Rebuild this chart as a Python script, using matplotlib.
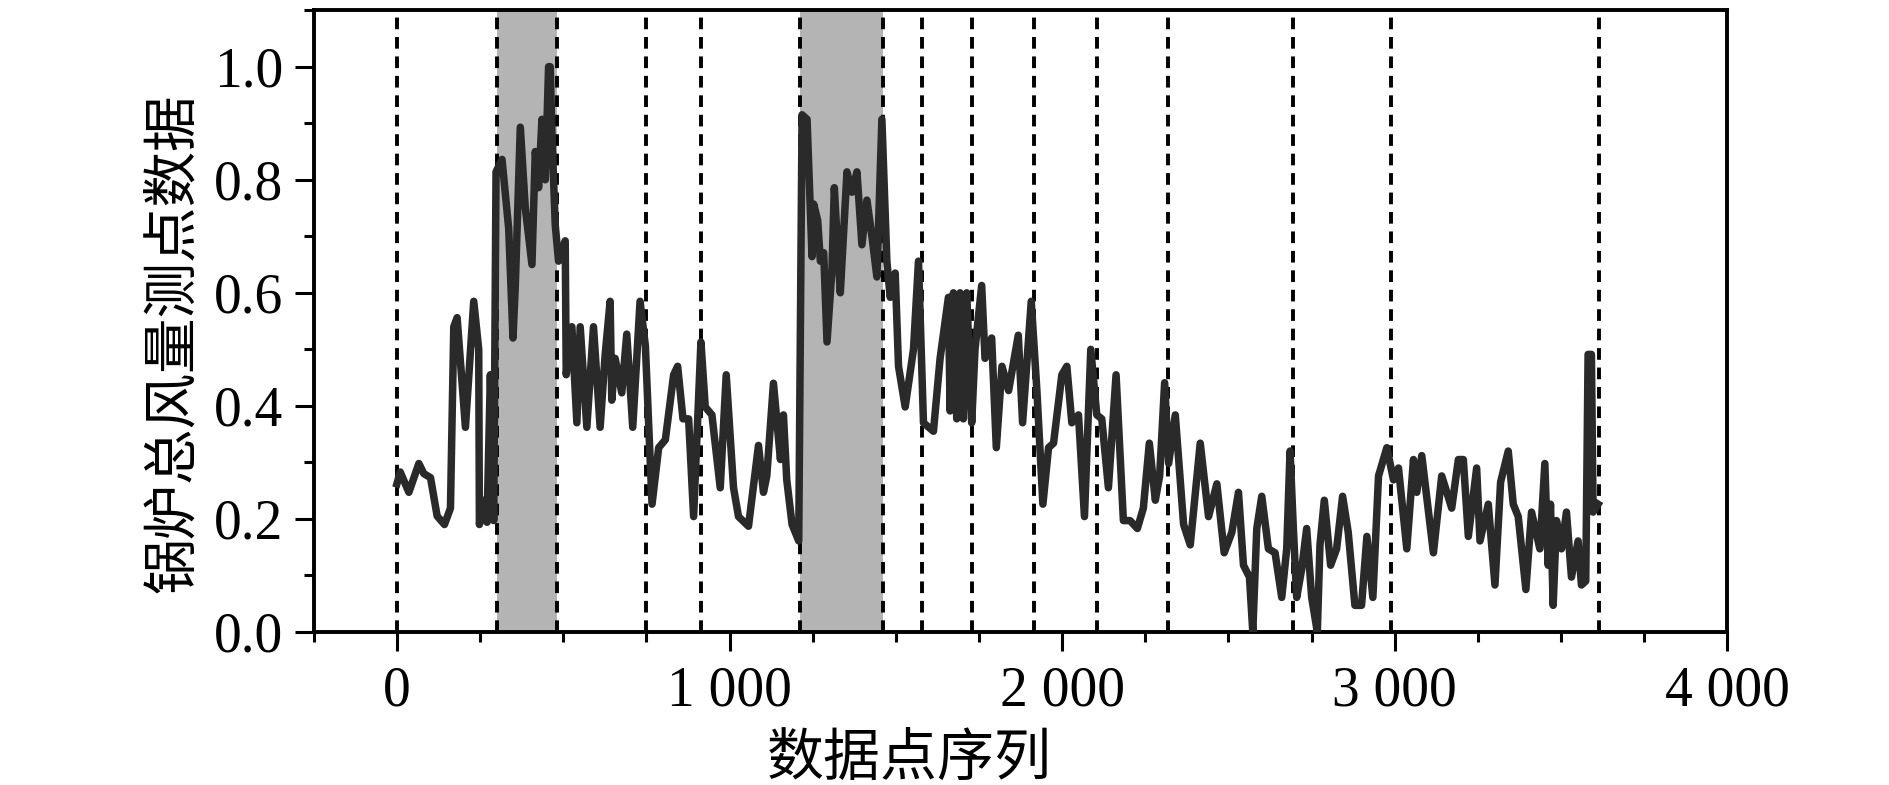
import matplotlib
matplotlib.use("Agg")
import matplotlib.pyplot as plt
from matplotlib.ticker import MultipleLocator, FuncFormatter

plt.rcParams['font.family'] = ['Liberation Serif', 'DejaVu Serif']

# data point index / value
idx = [0, 10, 36, 66, 81, 101, 121, 143, 161, 171, 181, 206, 231, 246, 248, 261, 271, 281, 291,
       298, 316, 336, 349, 356, 371, 386, 406, 416, 426, 436, 446, 456, 461, 466, 476, 486,
       506, 509, 526, 541, 551, 571, 591, 611, 626, 641, 646, 656, 676, 691, 709, 731, 747,
       767, 787, 807, 832, 844, 860, 877, 892, 914, 927, 947, 972, 990, 1012, 1027, 1057,
       1087, 1102, 1112, 1132, 1153, 1162, 1172, 1188, 1208, 1218, 1233, 1248, 1253, 1265,
       1273, 1283, 1293, 1308, 1315, 1323, 1333, 1353, 1368, 1383, 1398, 1413, 1428, 1443,
       1458, 1473, 1483, 1498, 1508, 1528, 1553, 1568, 1583, 1613, 1633, 1643, 1658, 1663,
       1673, 1683, 1693, 1703, 1713, 1728, 1738, 1758, 1768, 1788, 1802, 1819, 1839, 1868,
       1881, 1907, 1924, 1942, 1959, 1974, 1999, 2014, 2029, 2049, 2067, 2086, 2104, 2119,
       2139, 2162, 2184, 2204, 2226, 2244, 2262, 2280, 2293, 2308, 2320, 2340, 2365, 2385,
       2415, 2440, 2465, 2487, 2510, 2530, 2545, 2563, 2573, 2585, 2600, 2620, 2640, 2660,
       2675, 2685, 2695, 2705, 2720, 2735, 2750, 2767, 2775, 2788, 2807, 2825, 2843, 2860,
       2880, 2900, 2916, 2934, 2951, 2976, 2996, 3011, 3036, 3056, 3066, 3081, 3116, 3141,
       3171, 3191, 3206, 3221, 3246, 3256, 3281, 3301, 3318, 3341, 3356, 3371, 3394, 3411,
       3436, 3451, 3461, 3468, 3476, 3486, 3501, 3516, 3531, 3551, 3561, 3574, 3581, 3591,
       3596, 3611]
wind = [0.262, 0.283, 0.247, 0.298, 0.28, 0.273, 0.205, 0.19, 0.219, 0.54, 0.556, 0.362, 0.585,
        0.5, 0.19, 0.233, 0.194, 0.455, 0.197,
        0.814, 0.836, 0.714, 0.52, 0.613, 0.893, 0.75, 0.65, 0.85, 0.786, 0.907, 0.8, 1.0,
        1.0, 0.88, 0.72, 0.656,
        0.692, 0.455, 0.54, 0.37, 0.54, 0.362, 0.54, 0.362, 0.49, 0.585, 0.41, 0.484, 0.423,
        0.527, 0.362, 0.585, 0.506,
        0.226, 0.326, 0.34, 0.455, 0.47, 0.377, 0.377, 0.204, 0.513, 0.398, 0.384, 0.255,
        0.455, 0.255, 0.204, 0.187,
        0.33, 0.247, 0.276, 0.44, 0.305, 0.384, 0.269, 0.19, 0.161, 0.915, 0.907, 0.664,
        0.757, 0.728,
        0.656, 0.671, 0.513, 0.642, 0.786, 0.7, 0.6, 0.814, 0.778, 0.814, 0.685, 0.764, 0.7,
        0.628,
        0.907, 0.656, 0.592, 0.635, 0.47, 0.398, 0.5, 0.656, 0.37, 0.355, 0.484, 0.527,
        0.592, 0.391,
        0.6, 0.377, 0.6, 0.377, 0.6, 0.37, 0.5, 0.613, 0.484, 0.52, 0.326, 0.47, 0.427,
        0.525,
        0.37, 0.585, 0.427, 0.226, 0.326, 0.334, 0.455, 0.47, 0.37, 0.384, 0.204, 0.5,
        0.384, 0.377,
        0.255, 0.455, 0.197, 0.197, 0.183, 0.219, 0.334, 0.233, 0.276, 0.441, 0.298, 0.384,
        0.19, 0.154,
        0.334, 0.204, 0.262, 0.14, 0.176, 0.247, 0.118, 0.097, 0.0, 0.183, 0.24, 0.147,
        0.14, 0.061,
        0.147, 0.32, 0.183, 0.061, 0.111, 0.183, 0.061, 0.0, 0.154, 0.233, 0.118, 0.147,
        0.24, 0.176,
        0.047, 0.047, 0.169, 0.061, 0.276, 0.326, 0.269, 0.29, 0.147, 0.305, 0.247, 0.312,
        0.14, 0.276,
        0.219, 0.305, 0.305, 0.169, 0.29, 0.161, 0.226, 0.083, 0.265, 0.32, 0.226, 0.204,
        0.075, 0.212,
        0.147, 0.298, 0.118, 0.226, 0.047, 0.197, 0.147, 0.212, 0.097, 0.161, 0.083, 0.09,
        0.491, 0.491,
        0.212, 0.226]

# segment boundaries (dashed lines) and highlighted segments
cuts = [0, 300, 480, 750, 915, 1212, 1462, 1580, 1730, 1915, 2105, 2317, 2695, 2990, 3615]
spans = [(300, 480), (1212, 1462)]

fig = plt.figure(figsize=(18.9, 7.85), dpi=100)
ax = fig.add_axes([0.166, 0.195, 0.748, 0.792])

for a, b in spans:
    ax.axvspan(a, b, color='#b4b4b4', lw=0, zorder=1)
for c in cuts:
    ax.axvline(c, color='black', ls=(0, (3, 2)), lw=2.8, zorder=2)

ax.plot(idx, wind, color='#2a2a2a', lw=5.4, zorder=3, solid_joinstyle='round')

ax.set_xlim(-250, 4000)
ax.set_ylim(0, 1.1)
ax.xaxis.set_major_locator(MultipleLocator(1000))
ax.xaxis.set_minor_locator(MultipleLocator(250))
ax.yaxis.set_major_locator(MultipleLocator(0.2))
ax.yaxis.set_minor_locator(MultipleLocator(0.1))
ax.xaxis.set_major_formatter(FuncFormatter(lambda v, p: f"{int(v):,}".replace(",", " ")))
ax.yaxis.set_major_formatter(FuncFormatter(lambda v, p: f"{v:.1f}"))

ax.tick_params(which='major', direction='out', length=14, width=2.2, labelsize=40)
ax.tick_params(axis='x', which='major', pad=10)
ax.tick_params(axis='y', which='major', pad=8)
ax.tick_params(which='minor', direction='out', length=7, width=2.2)
for s in ax.spines.values():
    s.set_linewidth(2.8)

cjk = ['Noto Sans CJK SC', 'DejaVu Sans']
fig.text(909 / 1890, 1 - 759 / 785, '数据点序列', family=cjk, fontsize=41,
         ha='center', va='center')
fig.text(173 / 1890, 1 - 343 / 785, '锅炉总风量测点数据', family=cjk, fontsize=40,
         rotation=90, ha='center', va='center')

fig.savefig('out.png', dpi=100)
